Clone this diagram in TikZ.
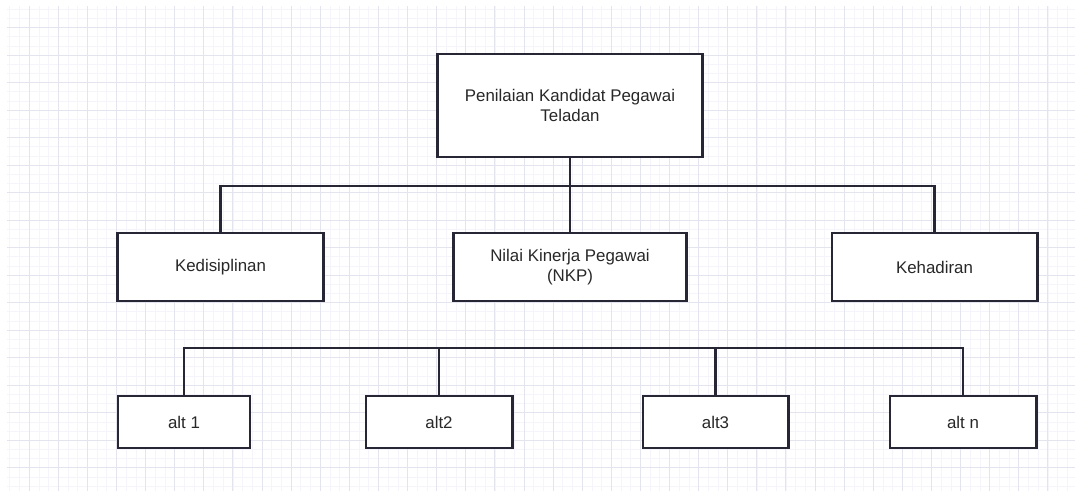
\documentclass[tikz,border=0pt]{standalone}
\usepackage{fontspec}
\setmainfont{Liberation Sans}
\usepackage{xcolor}
\usetikzlibrary{positioning}
\definecolor{linecol}{RGB}{38,38,52}
\definecolor{textcol}{RGB}{40,40,40}
\definecolor{gridminor}{RGB}{244,244,250}
\definecolor{gridmajor}{RGB}{228,228,238}
\tikzset{
	box/.style={draw=linecol, line width=2.1pt, fill=white, text=textcol,
		align=center, font=\fontsize{12}{14.2}\selectfont, inner sep=2pt},
	link/.style={draw=linecol, line width=2.1pt}
}

\begin{document}
\begin{tikzpicture}[x=0.025cm, y=-0.025cm]
		\useasboundingbox[fill=white] (0,0) rectangle (1075,491);
		\draw[gridminor, line width=0.4pt, xstep=0.2425cm, ystep=0.22917cm]
			(7,6) grid (1075,491);
		\draw[gridmajor, line width=0.6pt, xstep=0.7275cm, ystep=0.6875cm]
			(7,6) grid (1075,491);

		\node[box, minimum width=6.6cm, minimum height=2.575cm] (nilai) at (570,105.5)
			{Penilaian Kandidat Pegawai\\Teladan};

		\node[box, minimum width=5.125cm, minimum height=1.7cm] (disiplin) at (220.5,267)
			{Kedisiplinan};
		\node[box, minimum width=5.825cm, minimum height=1.7cm] (nkp) at (570,267)
			{Nilai Kinerja Pegawai\\(NKP)};
		\node[box, minimum width=5.125cm, minimum height=1.7cm] (hadir) at (934.5,267)
			{Kehadiran};

		\node[box, minimum width=3.3cm, minimum height=1.3cm] (alt1) at (184,422) {alt 1};
		\node[box, minimum width=3.65cm, minimum height=1.3cm] (alt2) at (439,422) {alt2};
		\node[box, minimum width=3.625cm, minimum height=1.3cm] (alt3) at (715.5,422) {alt3};
		\node[box, minimum width=3.65cm, minimum height=1.3cm] (altn) at (963,422) {alt n};

		\coordinate (bus1) at (0,186);
		\coordinate (bus2) at (0,348);
		\draw[link] (disiplin.north) -- (disiplin.north |- bus1) -| (hadir.north);
		\draw[link] (nilai.south) -- (nkp.north);
		\draw[link] (alt1.north) -- (alt1.north |- bus2) -| (altn.north);
		\draw[link] (alt2.north) -- (alt2.north |- bus2);
		\draw[link] (alt3.north) -- (alt3.north |- bus2);
	\end{tikzpicture}
\end{document}
